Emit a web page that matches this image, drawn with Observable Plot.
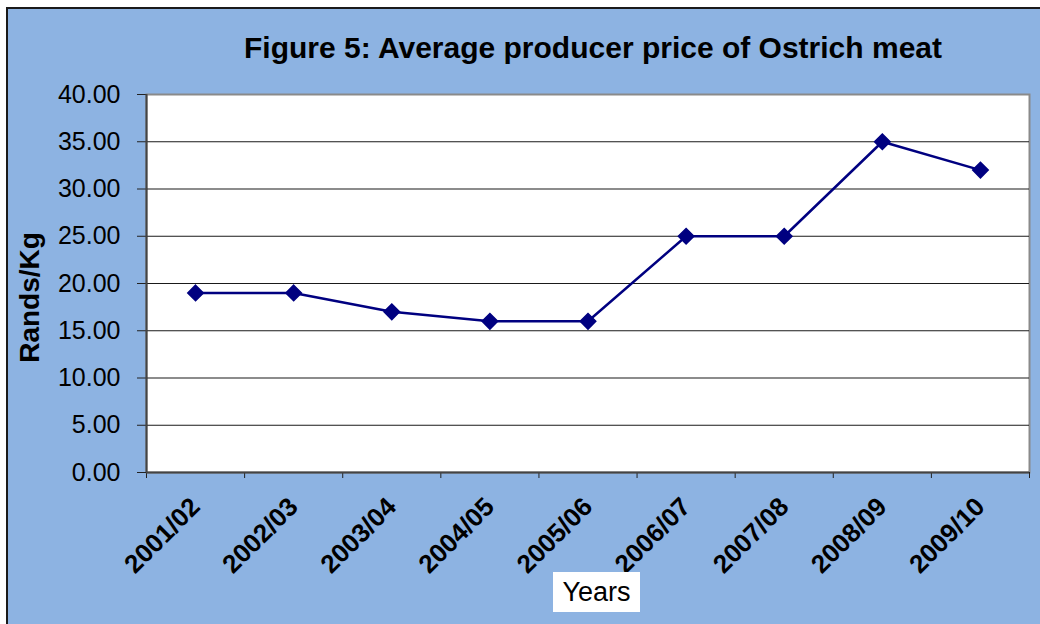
<!DOCTYPE html>
<html>
<head>
<meta charset="utf-8">
<script src="https://cdn.jsdelivr.net/npm/d3@7"></script>
<script src="https://cdn.jsdelivr.net/npm/@observablehq/plot@0.6"></script>
<style>
  html, body { margin: 0; padding: 0; background: #ffffff; }
  #wrap { position: absolute; left: 6px; top: 7px; border-left: 2px solid #1a1a1a; border-top: 2px solid #1a1a1a; width: 1032px; height: 615px; overflow: hidden; background: #8DB3E2; }
  #xlabel { position: absolute; left: 545px; top: 563px; width: 87px; height: 40px; background: #ffffff; font: 27px "Liberation Sans", Arial, sans-serif; color: #000; display: flex; align-items: center; justify-content: center; }
</style>
</head>
<body>
<div id="wrap"><div id="chart"></div><div id="xlabel">Years</div></div>
<script>
const title = "Figure 5: Average producer price of Ostrich meat";
const yLabel = "Rands/Kg";
const categories = ["2001/02", "2002/03", "2003/04", "2004/05", "2005/06", "2006/07", "2007/08", "2008/09", "2009/10"];
const prices = [19, 19, 17, 16, 16, 25, 25, 35, 32];
const yTicks = [0, 5, 10, 15, 20, 25, 30, 35, 40];

const data = categories.map((c, i) => ({pos: i + 0.5, year: c, price: prices[i]}));
const bandEdges = d3.range(categories.length + 1);
const navy = "#000080";

const chart = Plot.plot({
  width: 1032,
  height: 615,
  marginLeft: 138,
  marginRight: 11,
  marginTop: 85,
  marginBottom: 152,
  style: {background: "transparent", fontFamily: "'Liberation Sans', Arial, sans-serif", color: "#000"},
  x: {type: "linear", domain: [0, categories.length], axis: null},
  y: {domain: [0, 40], axis: null},
  marks: [
    Plot.frame({fill: "white", stroke: "#8a8a8a", strokeWidth: 2}),
    Plot.ruleY(yTicks.filter(v => v > 0 && v < 40), {stroke: "#1a1a1a", strokeWidth: 1.2}),
    Plot.axisY({ticks: yTicks, tickFormat: d3.format(".2f"), tickSize: 9, tickPadding: 17, fontSize: 25, label: null, stroke: "#222"}),
    Plot.axisX({ticks: bandEdges, tickFormat: () => "", tickSize: 6, label: null, stroke: "#222"}),
    Plot.axisX({ticks: data.map(d => d.pos), tickFormat: p => categories[Math.round(p - 0.5)], tickSize: 0, tickPadding: 30, tickRotate: -45, fontSize: 26, fontWeight: "bold", label: null, dx: 0}),
    Plot.ruleX([0], {stroke: "#444", strokeWidth: 2}),
    Plot.ruleY([0], {stroke: "#444", strokeWidth: 2}),
    Plot.line(data, {x: "pos", y: "price", stroke: navy, strokeWidth: 2.5}),
    Plot.dot(data, {x: "pos", y: "price", symbol: "diamond2", r: 7, fill: navy, stroke: navy}),
    Plot.text([title], {frameAnchor: "top", lineAnchor: "middle", dy: -46, dx: 5, fontSize: 30, fontWeight: "bold", fill: "#000"}),
    Plot.text([yLabel], {frameAnchor: "left", textAnchor: "middle", rotate: -90, dx: -116, dy: 14, fontSize: 28, fontWeight: "bold", fill: "#000"})
  ]
});
document.getElementById("chart").appendChild(chart);
</script>
</body>
</html>
